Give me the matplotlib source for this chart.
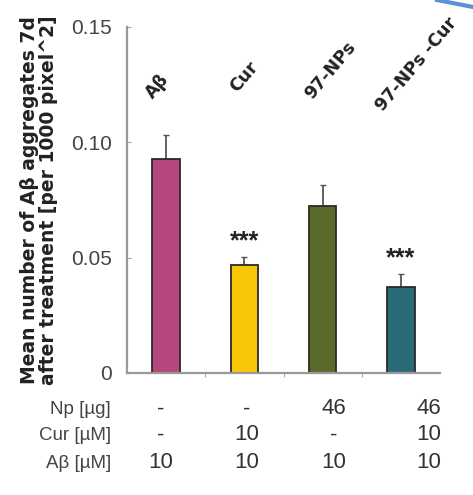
import numpy as np
import matplotlib.pyplot as plt

plt.rcParams['font.family'] = ['Liberation Sans', 'DejaVu Sans']

groups = ["Aβ", "Cur", "97-NPs", "97-NPs -Cur"]
means = [0.0928, 0.0468, 0.0724, 0.0373]
errors = [0.0105, 0.0035, 0.0092, 0.0057]
colors = ["#b4477c", "#f6c607", "#5a6a2a", "#2a6a78"]
stars = ["", "***", "", "***"]

row_labels = ["Np [µg]", "Cur [µM]", "Aβ [µM]"]
np_vals = ["-", "-", "46", "46"]
cur_vals = ["-", "10", "-", "10"]
ab_vals = ["10", "10", "10", "10"]

W, H = 473, 495
fig = plt.figure(figsize=(W / 100, H / 100), dpi=100)
ax = fig.add_axes([127 / W, 1 - 373 / H, (440 - 127) / W, (373 - 27) / H])

x = np.arange(len(groups))
ax.bar(x, means, width=0.35, color=colors, edgecolor="#2a2a2a", linewidth=1.3, zorder=2)
ax.errorbar(x, means, yerr=[np.zeros(4), errors], fmt="none", ecolor="#555555",
            elinewidth=1.3, capsize=2, zorder=1)

for xi, m, e, s in zip(x, means, errors, stars):
    if s:
        ax.text(xi, m + e + 0.0015, s, ha="center", va="bottom", fontsize=18,
                fontweight="bold", color="#222222")

ax.set_xlim(-0.5, 3.5)
ax.set_ylim(0, 0.15)
ax.set_yticks([0, 0.05, 0.10, 0.15])
ax.set_yticklabels(["0", "0.05", "0.10", "0.15"])
ax.tick_params(axis="y", labelsize=15, colors="#aaaaaa", labelcolor="#444444",
               direction="in", length=3, pad=11)
ax.set_xticks([0.5, 1.5, 2.5])
ax.set_xticklabels([])
ax.tick_params(axis="x", direction="out", length=3, colors="#aaaaaa")
for side in ["top", "right"]:
    ax.spines[side].set_visible(False)
for side in ["left", "bottom"]:
    ax.spines[side].set_color("#999999")
    ax.spines[side].set_linewidth(1.6)

# rotated group names above the bars (figure pixel centres)
label_pos = [(157, 86), (244, 77), (330, 70), (416, 64)]
for g, (px, py) in zip(groups, label_pos):
    fig.text(px / W, 1 - py / H, g, rotation=50, ha="center", va="center",
             fontsize=12.5, fontweight="bold", color="#222222", family="DejaVu Sans")

fig.text(39 / W, 1 - 200 / H,
         "Mean number of Aβ aggregates 7d\nafter treatment [per 1000 pixel^2]",
         rotation=90, ha="center", va="center", multialignment="center",
         fontsize=13.5, fontweight="bold", color="#222222", family="DejaVu Sans",
         linespacing=1.0)

# condition table under the axis
col_x = [161, 247, 334, 429]
row_y = [409, 435, 463]
for py, lab, vals in zip(row_y, row_labels, [np_vals, cur_vals, ab_vals]):
    fig.text(111 / W, 1 - py / H, lab, ha="right", va="center", fontsize=13.5,
             color="#444444")
    for px, v in zip(col_x, vals):
        fig.text(px / W, 1 - py / H, v, ha="center", va="center", fontsize=16,
                 color="#333333")

# blue arc fragment in the top right corner
fig.add_artist(plt.Line2D([437 / W, 1.0], [1.0, 1 - 7 / H], color="#5b8fd6",
                          linewidth=3, transform=fig.transFigure))

fig.savefig("out.png", dpi=100)
